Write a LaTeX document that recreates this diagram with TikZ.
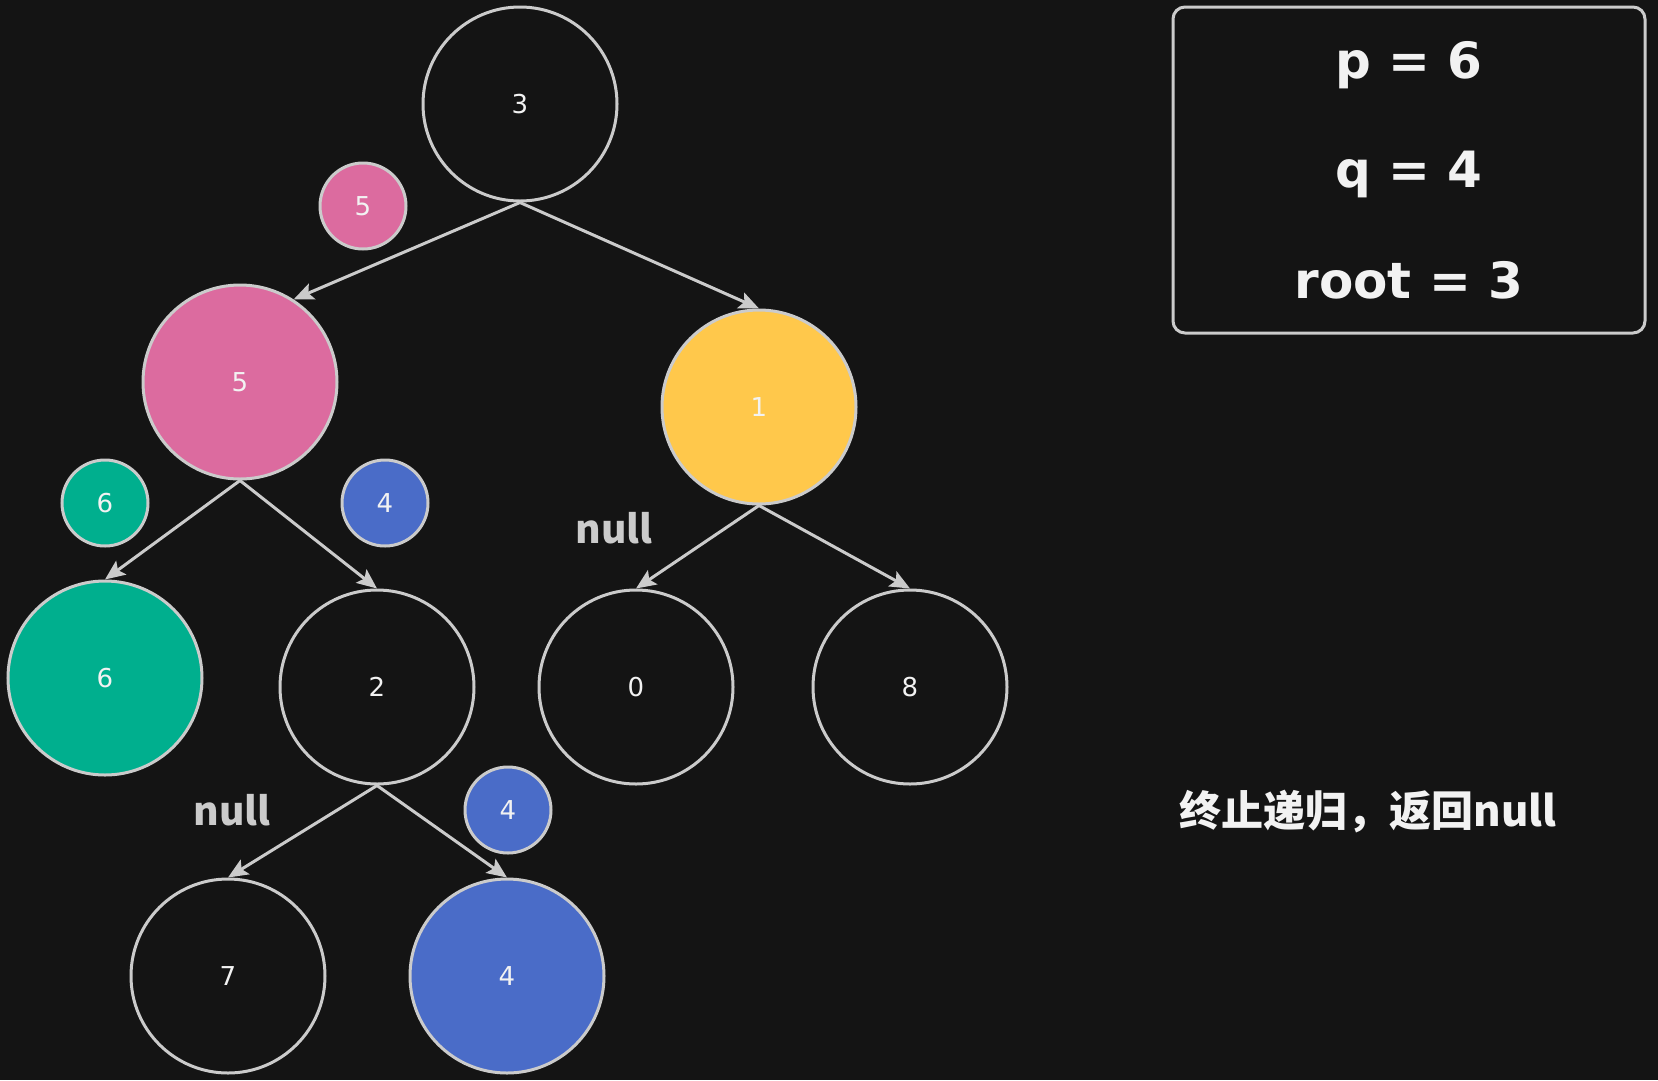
\documentclass[tikz,border=0pt]{standalone}
\usepackage{fontspec}
\setmainfont{DejaVu Sans}
\newfontfamily\cjk{Noto Sans CJK SC}
\usetikzlibrary{arrows.meta}

\definecolor{bg}{HTML}{141414}
\definecolor{rim}{HTML}{CBCBCB}
\definecolor{ink}{HTML}{F2F2F2}
\definecolor{rose}{HTML}{DC6B9F}
\definecolor{sun}{HTML}{FFC84B}
\definecolor{jade}{HTML}{00AF8E}
\definecolor{cobalt}{HTML}{4A6CC8}

\begin{document}
\begin{tikzpicture}[
    x=1pt, y=-1pt,
    >={Stealth[length=20pt, width=17pt, inset=4pt]},
    tnode/.style={circle, draw=rim, line width=3pt, minimum size=194pt, inner sep=0pt,
      text=ink, font=\fontsize{26}{30}\selectfont},
    tag/.style={tnode, minimum size=86pt},
    edge/.style={draw=rim, line width=3pt, ->},
    nulltxt/.style={anchor=base, text=rim, font=\cjk\bfseries\fontsize{39}{46}\selectfont},
    vartxt/.style={anchor=base, text=ink, font=\bfseries\fontsize{50}{56}\selectfont},
  ]
    \fill[bg] (0,0) rectangle (1658,1080);

    % tree
    \node[tnode] (n3) at (520,104) {3};
    \node[tnode, fill=rose] (n5) at (240,382) {5};
    \node[tnode, fill=sun] (n1) at (759,407) {1};
    \node[tnode, fill=jade] (n6) at (105,678) {6};
    \foreach \name/\x/\lab in {n2/377/2, n0/636/0, n8/910/8}
      \node[tnode] (\name) at (\x,687) {\lab};
    \node[tnode] (n7) at (228,976) {7};
    \node[tnode, fill=cobalt] (n4) at (507,976) {4};

    % returned values
    \node[tag, fill=rose] (r5) at (363,206) {5};
    \node[tag, fill=jade] (r6) at (105,503) {6};
    \node[tag, fill=cobalt] (r4a) at (385,503) {4};
    \node[tag, fill=cobalt] (r4b) at (508,810) {4};
    \node[nulltxt] (null1) at (614,543) {null};
    \node[nulltxt] (null2) at (232,825) {null};

    \draw[edge] (n3.south) -- (n5.57);
    \draw[edge] (n3.south) -- (n1.north);
    \draw[edge] (n5.south) -- (n6.north);
    \draw[edge] (n5.south) -- (n2.north);
    \draw[edge] (n1.south) -- (n0.north);
    \draw[edge] (n1.south) -- (n8.north);
    \draw[edge] (n2.south) -- (n7.north);
    \draw[edge] (n2.south) -- (n4.north);

    % inputs
    \node[draw=rim, line width=3pt, rounded corners=12pt, minimum width=472pt,
      minimum height=326pt] (info) at (1409,170) {};
    \foreach \txt/\y/\name in {p = 6/78/vp, q = 4/187/vq, root = 3/298/vroot}
      \node[vartxt] (\name) at (1409,\y) {\txt};

    \node[anchor=base west, text=ink, font=\cjk\bfseries\fontsize{42}{50}\selectfont]
      (msg) at (1176,826) {终止递归，返回null};
  \end{tikzpicture}
\end{document}
